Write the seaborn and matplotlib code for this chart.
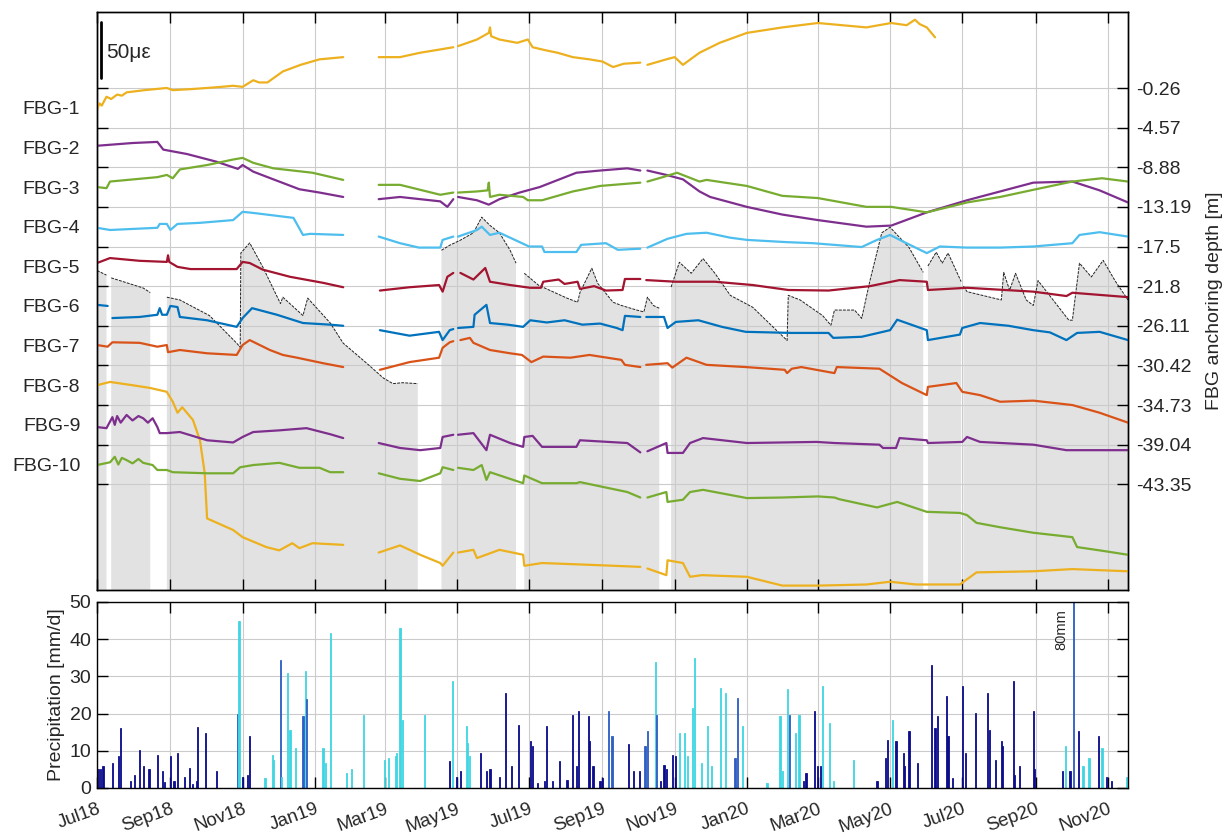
import numpy as np
import pandas as pd
import matplotlib
matplotlib.use("Agg")
import matplotlib.pyplot as plt
import matplotlib.dates as mdates
import seaborn as sns

nan = np.nan
START = pd.Timestamp("2018-07-01")
END_DAY = 871

SENSORS = ["FBG-1", "FBG-2", "FBG-3", "FBG-4", "FBG-5",
           "FBG-6", "FBG-7", "FBG-8", "FBG-9", "FBG-10"]
DEPTHS = [-0.26, -4.57, -8.88, -13.19, -17.5, -21.8, -26.11,
          -30.42, -34.73, -39.04, -43.35]
COLORS = ["#EDB120", "#7E2F8E", "#77AC30", "#4DBEEE", "#A2142F",
          "#0072BD", "#D95319", "#EDB120", "#7E2F8E", "#77AC30"]

# (day since 2018-07-01, relative strain in microstrain)
FBG1 = [(0, -2), (2, 4), (4, 2), (8, 10), (12, 8), (17, 12), (21, 11), (25, 14), (40, 16), (59, 18),
        (64, 16), (80, 17), (93, 18), (105, 19), (115, 20), (123, 19), (132, 25), (137, 23), (144, 23),
        (157, 33), (172, 39), (188, 44), (208, 46), (223, nan), (238, 46), (256, 46), (273, 50),
        (290, 53), (301, 55), (303, nan), (305, 56), (321, 62), (331, 68), (332, 73), (333, 65),
        (340, 62), (355, 59), (364, 62), (368, 55), (380, 52), (389, 50), (402, 46), (416, 44),
        (427, 42), (436, 37), (445, 40), (459, 41), (462, nan), (465, 39), (481, 44), (488, 46),
        (495, 39), (509, 50), (526, 59), (549, 68), (579, 73), (609, 77), (650, 73), (671, 77),
        (684, 75), (691, 80), (695, 76), (701, 73), (708, 64)]
FBG2 = [(0, 1.5), (30, 4), (51, 5), (56, -2), (76, -6), (101, -13), (119, -19.5), (123, -16),
        (132, -22), (149, -29), (171, -38), (188, -41), (208, -45), (223, nan), (238, -47),
        (256, -45), (290, -49), (296, -54), (301, -47), (303, nan), (305, -45), (321, -48),
        (331, -52), (340, -47), (357, -41), (374, -36), (405, -23), (425, -21), (448, -19),
        (459, -21), (462, nan), (465, -21), (481, -25), (495, -29), (509, -40), (518, -45),
        (549, -54), (579, -61), (609, -66), (650, -72), (671, -71), (701, -59), (735, -48),
        (763, -40), (791, -32), (824, -31), (847, -39), (871, -50)]
FBG3 = [(0, 0), (8, -1), (11, 5), (51, 9), (59, 11), (64, 8), (70, 16), (93, 20), (115, 25),
        (123, 26.5), (132, 22), (149, 17), (182, 13), (208, 6.5), (223, nan), (238, 2), (256, 2),
        (290, -7), (301, -5), (303, nan), (305, -5), (321, -4), (330, -3), (331, 4), (332, -9),
        (340, -7), (360, -9), (364, -12), (376, -12), (402, -4), (425, 1), (459, 4), (462, nan),
        (465, 5), (478, 9), (490, 13), (509, 5), (515, 6.5), (549, 1), (579, -8), (609, -10),
        (650, -18), (671, -18), (701, -23), (735, -14), (763, -9), (791, -2.5), (824, 5),
        (849, 8), (871, 5)]
FBG4 = [(0, -1), (11, -3), (51, -1), (53, 2.5), (59, 2.5), (62, -3), (68, 2.5), (87, 3.5),
        (115, 6), (123, 13.5), (132, 12.5), (166, 8), (174, -7.5), (180, -6.5), (208, -7.5),
        (223, nan), (238, -9), (256, -15), (272, -19), (290, -19), (292, -12), (301, -9),
        (303, nan), (305, -9), (321, -3), (325, 0), (332, -7.5), (340, -5.5), (365, -18),
        (376, -18), (378, -23), (405, -23), (409, -16.5), (430, -15), (440, -21), (459, -20),
        (462, nan), (465, -19), (482, -11), (498, -6.5), (515, -5.5), (535, -10), (549, -12),
        (582, -14), (605, -15), (646, -18.5), (659, -12), (670, -7.5), (682, -14), (701, -24),
        (712, -18), (735, -19), (763, -19), (791, -18), (824, -15), (830, -7.5), (847, -5),
        (871, -9)]
FBG5 = [(0, 3), (11, 7.5), (36, 5), (59, 4), (60, 10), (61, 4), (68, -0.5), (79, -2.5),
        (118, -2.5), (123, 4), (129, 3), (140, -3), (163, -9.5), (191, -15), (208, -19),
        (223, nan), (239, -22), (264, -19), (289, -17), (292, -23), (296, -9.5), (301, -6),
        (303, nan), (307, -6), (318, -12), (328, -1.5), (332, -14), (349, -17), (366, -19.5),
        (375, -19.5), (377, -14), (390, -12), (395, -16), (406, -14), (408, -20.5), (420, -18),
        (430, -22), (444, -21.5), (446, -11.5), (459, -11.5), (462, nan), (464, -12.5),
        (489, -14), (522, -14), (554, -17), (584, -21.5), (618, -22), (653, -18), (678, -12.5),
        (701, -14), (702, -21.5), (735, -19.5), (791, -23), (819, -27), (824, -24), (871, -28)]
FBG6 = [(0, 1), (9, 0), (10, nan), (13, -11), (36, -10), (51, -8), (53, -2), (55, -8), (59, -8),
        (62, 0), (68, -1), (70, -10), (93, -13), (118, -19), (123, -11), (131, -2), (152, -8),
        (174, -15.5), (197, -17), (208, -18), (223, nan), (239, -22), (264, -27), (289, -23.5),
        (292, -31), (298, -22), (301, -21), (303, nan), (305, -20), (318, -19), (319, -8),
        (329, 1), (332, -15.5), (347, -17), (360, -19), (366, -13), (380, -15), (395, -13),
        (410, -17), (425, -16), (439, -20), (444, -22), (446, -9), (459, -10), (462, nan),
        (464, -10), (479, -10), (482, -20), (489, -14.5), (508, -13), (528, -19), (548, -23.5),
        (587, -24.5), (618, -24.5), (622, -29), (646, -28), (670, -22), (676, -12.5), (701, -22),
        (702, -31), (729, -26), (731, -20), (746, -15.5), (770, -18), (791, -22), (805, -24),
        (819, -31), (828, -24.5), (847, -23.5), (871, -31)]
FBG7 = [(0, 0.5), (9, -1), (13, 3), (36, 2.5), (51, -1), (59, 0.5), (60, -6), (70, -4), (93, -7),
        (118, -8.5), (123, 0.5), (129, 5), (146, -4), (157, -8.5), (169, -11), (191, -16),
        (208, -19.5), (223, nan), (239, -22), (264, -15), (289, -11), (292, -2), (298, 3),
        (301, 4), (303, nan), (307, 5), (315, 7), (318, 2.5), (332, -4), (349, -7), (359, -8.5),
        (367, -15), (377, -10), (400, -11), (416, -8.5), (443, -13), (446, -17.5), (459, -19.5),
        (462, nan), (464, -17.5), (482, -16), (486, -20), (498, -11), (515, -17.5), (548, -19.5),
        (581, -22), (583, -25), (587, -21), (595, -19.5), (623, -25), (625, -19.5), (661, -21),
        (680, -34), (701, -45), (702, -37.5), (726, -34), (731, -42), (746, -45), (763, -51),
        (791, -50), (824, -54), (847, -61), (871, -70)]
FBG8 = [(0, 0), (11, 3), (30, 0), (45, -2.5), (59, -6), (62, -11.5), (64, -15), (68, -25),
        (72, -20), (81, -31.5), (87, -50), (91, -80), (93, -121), (115, -131.5), (123, -138),
        (143, -147), (154, -150), (165, -143.5), (171, -148), (182, -143.5), (208, -145),
        (223, nan), (238, -152), (256, -145.5), (273, -154), (290, -161.5), (292, -164),
        (301, -152), (303, nan), (305, -152), (318, -149.5), (321, -157), (340, -149.5),
        (360, -154), (361, -164), (376, -161.5), (425, -163.5), (459, -165), (462, nan),
        (465, -166.5), (481, -172.5), (482, -159), (495, -161.5), (501, -174), (511, -172.5),
        (549, -174), (579, -182), (609, -182), (650, -181), (670, -178.5), (692, -181),
        (729, -181), (743, -170), (791, -169), (824, -167), (871, -169)]
FBG9 = [(0, -2), (8, -3), (13, 7), (15, 0), (17, 8), (20, 2), (25, 9), (30, 4), (35, 8), (39, 6),
        (43, 2), (47, 6), (51, -2), (53, -7.5), (59, -7.5), (70, -6.5), (93, -14), (115, -16),
        (123, -11), (132, -6.5), (154, -5), (177, -3), (197, -8.5), (208, -12), (223, nan),
        (238, -16.5), (256, -21), (273, -23), (290, -21), (292, -11), (301, -9), (303, nan),
        (305, -9), (318, -7.5), (329, -23), (332, -9), (349, -16.5), (360, -20), (361, -11),
        (368, -10), (376, -20), (405, -20), (408, -14), (448, -16.5), (459, -25), (462, nan),
        (465, -24), (481, -16.5), (482, -25.5), (495, -25.5), (501, -16.5), (512, -12),
        (549, -16.5), (608, -15.5), (623, -16.5), (661, -18), (664, -21), (675, -21), (678, -12),
        (701, -14), (702, -16.5), (731, -15.5), (735, -11), (746, -15.5), (791, -18), (819, -23),
        (871, -23)]
FBG10 = [(0, -0.5), (11, 2), (15, 7), (18, 0), (21, 6), (25, 4), (30, 1), (35, 5), (39, 1.5),
         (47, -0.5), (51, -5), (59, -5), (64, -7), (93, -8), (115, -8), (121, -2.5), (132, -0.5),
         (154, 1.5), (171, -3), (188, -3), (197, -7), (208, -7), (223, nan), (238, -8), (256, -13),
         (273, -15), (290, -8), (292, -2.5), (301, -5), (303, nan), (305, -3), (318, -5),
         (325, -0.5), (329, -14), (332, -7), (360, -17), (361, -10), (376, -17), (405, -17),
         (408, -16), (448, -25), (459, -30), (462, nan), (465, -30), (481, -25), (482, -34),
         (495, -32), (501, -25), (512, -23), (549, -30.5), (579, -30), (609, -29), (623, -30),
         (627, -31.5), (659, -39), (676, -34), (701, -43), (729, -44), (735, -46), (743, -53),
         (763, -57), (791, -62), (824, -66), (828, -75), (847, -78), (871, -82)]
SERIES = [FBG1, FBG2, FBG3, FBG4, FBG5, FBG6, FBG7, FBG8, FBG9, FBG10]

# groundwater level (day, depth in m)
WATER = [(0, -20.1), (8, -20.6), (10, nan), (12, -20.9), (39, -22.0), (45, -22.5), (52, nan),
         (59, -23.0), (70, -23.3), (95, -25.0), (118, -28.0), (121, -28.45), (121.5, -18.2),
         (129, -17.1), (140, -19.7), (155, -23.7), (157, -23.0), (174, -25.0), (178, -23.1),
         (197, -25.8), (208, -28.0), (228, -30.2), (242, -31.8), (250, -32.4), (258, -32.3),
         (271, -32.4), (280, nan), (291, -17.9), (298, -17.35), (307, -16.8), (318, -16.0),
         (325, -14.3), (332, -15.2), (340, -16.0), (349, -17.9), (354, -19.3), (357, nan),
         (361, -20.4), (373, -21.7), (397, -23.1), (406, -23.55), (408, -22.5), (418, -19.85),
         (423, -21.5), (436, -23.55), (443, -23.9), (456, -24.4), (462, -24.6), (465, -23.0),
         (470, -23.9), (475, -24.2), (480, nan), (485, -21.9), (492, -19.2), (502, -20.4),
         (512, -18.8), (522, -20.4), (535, -22.8), (554, -24.1), (574, -26.6), (583, -27.7),
         (584, -22.8), (594, -23.3), (613, -25.0), (620, -26.05), (623, -24.4), (640, -24.4),
         (646, -25.3), (653, -21.2), (663, -16.0), (670, -15.4), (686, -17.6), (698, -20.3),
         (700, nan), (702, -19.6), (709, -18.1), (714, -19.3), (719, -18.2), (730, -21.3),
         (731, nan), (732, -21.8), (735, -22.4), (764, -23.3), (766, -20.3), (771, -22.25),
         (776, -20.4), (785, -23.3), (791, -23.9), (795, -21.2), (821, -25.5), (824, -25.5),
         (830, -19.3), (840, -20.8), (850, -19.0), (860, -21.2), (871, -23.3)]

# precipitation events (day, mm/d, type: r=rain, m=mixed, s=snow)
PRECIP = [(1, 5, "r"), (3, 5, "r"), (5, 6, "r"), (13, 6.7, "r"), (18, 8.5, "r"), (20, 16, "r"),
          (28, 2, "r"), (32, 3.5, "r"), (36, 10.3, "r"), (39, 6, "r"), (44, 5, "r"), (51, 9, "r"),
          (55, 4.5, "r"), (57, 1.5, "r"), (62, 8.5, "r"), (65, 2, "r"), (68, 9.5, "r"), (74, 3, "r"),
          (78, 5.5, "r"), (81, 1, "r"), (84, 2, "r"), (85, 16.4, "r"), (92, 14.8, "r"),
          (101, 4.5, "r"), (119, 20, "m"), (120, 45, "s"), (123, 3, "r"), (127, 3.5, "r"),
          (129, 14, "r"), (142, 2.7, "s"), (148, 9, "s"), (149, 7.6, "s"), (155, 34.5, "m"),
          (156, 3, "s"), (161, 31, "s"), (163, 15.7, "s"), (168, 10.8, "s"), (174, 19.3, "m"),
          (176, 31.4, "s"), (177, 23.8, "m"), (191, 10.8, "s"), (193, 6.7, "s"), (197, 41.7, "s"),
          (211, 4, "s"), (215, 5, "s"), (225, 19.7, "s"), (243, 7.6, "s"), (246, 8, "s"),
          (252, 8.5, "s"), (253, 9.4, "s"), (256, 43, "s"), (258, 18.4, "s"), (277, 19.7, "s"),
          (298, 7.2, "r"), (300, 28.7, "s"), (304, 3, "r"), (307, 4.5, "r"), (312, 16.6, "s"),
          (313, 12, "s"), (315, 8.5, "s"), (324, 9.4, "r"), (329, 4.5, "r"), (332, 5, "r"),
          (340, 3, "r"), (345, 25.6, "r"), (350, 5.8, "r"), (356, 17, "r"), (366, 12.6, "r"),
          (368, 11.2, "r"), (372, 1.3, "r"), (378, 1.8, "r"), (380, 16.8, "r"), (385, 1.8, "r"),
          (391, 7.2, "r"), (397, 2.2, "r"), (402, 19.7, "r"), (405, 5.8, "r"), (407, 20.6, "r"),
          (415, 19.3, "r"), (416, 12.6, "r"), (419, 5.8, "r"), (425, 1.8, "r"), (427, 2.7, "r"),
          (432, 20.6, "m"), (435, 14, "m"), (449, 11.7, "r"), (453, 4.5, "r"), (458, 4.5, "r"),
          (463, 11.2, "m"), (465, 15.3, "m"), (472, 34, "s"), (473, 19.7, "m"), (476, 1.8, "r"),
          (479, 6.3, "r"), (481, 5, "r"), (486, 9, "r"), (489, 8.5, "r"), (492, 14.8, "s"),
          (496, 14.8, "s"), (499, 8.5, "s"), (503, 21.5, "s"), (505, 35, "s"), (511, 6.7, "s"),
          (516, 16.6, "s"), (519, 5.8, "s"), (527, 27, "s"), (531, 25.6, "s"), (539, 8, "m"),
          (541, 24.2, "m"), (545, 16.6, "s"), (566, 1.3, "s"), (577, 19.3, "s"), (579, 4.5, "s"),
          (583, 26.5, "s"), (585, 19.7, "m"), (590, 14.8, "s"), (593, 19.7, "s"), (597, 1.8, "r"),
          (599, 4, "r"), (606, 20.6, "r"), (609, 5.8, "r"), (611, 5.8, "r"), (613, 27.4, "s"),
          (619, 17.5, "s"), (622, 1.8, "s"), (639, 7.6, "s"), (659, 1.8, "r"), (666, 8, "r"),
          (668, 13, "r"), (672, 18.4, "s"), (675, 12.6, "r"), (681, 9.4, "r"), (682, 5.8, "r"),
          (686, 15.3, "r"), (693, 6.7, "r"), (705, 33, "r"), (708, 16.2, "r"), (710, 19.3, "r"),
          (718, 24.7, "r"), (719, 14, "r"), (723, 2.7, "r"), (731, 27.4, "r"), (734, 9.4, "r"),
          (742, 20.2, "r"), (752, 25.6, "r"), (754, 15.7, "r"), (759, 7.6, "r"), (764, 12.6, "r"),
          (765, 11.2, "r"), (774, 28.7, "r"), (775, 3.6, "r"), (779, 5.8, "r"), (791, 20.6, "r"),
          (792, 5, "r"), (816, 4.5, "r"), (818, 11.2, "s"), (822, 4.5, "r"), (825, 80, "m"),
          (829, 15.3, "r"), (833, 5.8, "s"), (838, 8, "s"), (846, 14, "r"), (849, 10.8, "s"),
          (853, 3, "r"), (857, 1.8, "r"), (870, 3, "s")]
PRECIP_COLORS = {"r": "#0c0c8c", "m": "#2f5fc4", "s": "#3fd6e3"}

# ---------------------------------------------------------------------------
W, H = 1227, 834
sns.set_theme(style="white")
plt.rcParams["font.family"] = ["Liberation Sans", "DejaVu Sans"]
plt.rcParams["axes.edgecolor"] = "black"
plt.rcParams["axes.linewidth"] = 1.0

fig = plt.figure(figsize=(W / 100, H / 100), dpi=100)
fig.patch.set_facecolor("white")
ax_d = fig.add_axes([97 / W, 1 - 590 / H, (1128 - 97) / W, (590 - 12) / H])
ax_p = fig.add_axes([97 / W, 1 - 788 / H, (1128 - 97) / W, (788 - 602) / H], sharex=ax_d)
ax_s = ax_d.twinx()


def to_dates(days):
    return START + pd.to_timedelta(np.asarray(days, float), unit="D")


# strain axis geometry (microstrain units, 36 per sensor row)
S_LIM = (0, 525)
GRID_S = [96 + 36 * i for i in range(11)]
BASE = [438 - 36 * i for i in range(10)]
# depth axis aligned to strain axis grid
D_LIM = (-54.84, 8.01)

# groundwater level
wd = np.array([p[0] for p in WATER], float)
wv = np.array([p[1] for p in WATER], float)
wdates = to_dates(wd)
ax_d.fill_between(wdates, wv, D_LIM[0], color="#e2e2e2", lw=0, zorder=0.3)
ax_d.plot(wdates, wv, color="#222222", lw=0.7, ls=(0, (3, 1.2)), zorder=0.6)

# strain series
for k, (pts, col) in enumerate(zip(SERIES, COLORS)):
    d = np.array([p[0] for p in pts], float)
    v = np.array([p[1] for p in pts], float)
    df = pd.DataFrame({"date": to_dates(d), "ue": BASE[k] + v,
                       "seg": np.cumsum(np.isnan(v))}).dropna()
    sns.lineplot(data=df, x="date", y="ue", units="seg", estimator=None, sort=False,
                 color=col, lw=1.6, ax=ax_s, legend=False)

# 50 microstrain scale bar
ax_s.plot(to_dates([3.5, 3.5]), [465.5, 515.5], color="black", lw=2)
ax_s.text(mdates.date2num(START + pd.Timedelta(days=8)), 488, "50\u03bc\u03b5",
          ha="left", va="center", fontsize=15)

xmin, xmax = START, START + pd.Timedelta(days=END_DAY)
ax_d.set_xlim(xmin, xmax)
ax_d.set_ylim(*D_LIM)
ax_s.set_ylim(*S_LIM)

loc = mdates.MonthLocator(bymonth=[1, 3, 5, 7, 9, 11])
ax_d.xaxis.set_major_locator(loc)
ax_d.xaxis.set_major_formatter(mdates.DateFormatter("%b%y"))

ax_d.yaxis.tick_right()
ax_d.yaxis.set_label_position("right")
ax_d.set_yticks(DEPTHS)
ax_d.set_yticklabels([f"{v:g}" for v in DEPTHS])
ax_d.grid(True, color="#cbcbcb", lw=0.8)
ax_d.set_axisbelow(True)
ax_d.tick_params(axis="x", direction="in", length=8, width=1, top=True, bottom=True,
                 labelbottom=False, labeltop=False, color="black")
ax_d.tick_params(axis="y", direction="in", length=8, width=1, left=False, right=True,
                 labelleft=False, labelright=True, labelsize=14, pad=6, color="black")
ax_d.set_ylabel("FBG anchoring depth [m]", fontsize=14, labelpad=10)
ax_d.set_xlabel("")

ax_s.yaxis.tick_left()
ax_s.set_yticks(GRID_S)
ax_s.set_yticklabels([])
ax_s.set_yticks(BASE, minor=True)
ax_s.set_yticklabels(SENSORS, minor=True)
ax_s.tick_params(axis="y", which="major", direction="in", length=8, width=1,
                 left=True, right=False, labelleft=False, labelright=False, color="black")
ax_s.tick_params(axis="y", which="minor", length=0, left=True, right=False,
                 labelleft=True, labelright=False, labelsize=14, pad=12)
ax_s.set_ylabel("")
ax_s.set_xlabel("")
ax_s.grid(False)

# precipitation
pday = np.array([p[0] for p in PRECIP], float)
pmm = np.array([p[1] for p in PRECIP], float)
pcol = [PRECIP_COLORS[p[2]] for p in PRECIP]
ax_p.bar(to_dates(pday), pmm, width=1.0, color=pcol, edgecolor=pcol, lw=0.6, zorder=2)
ax_p.text(mdates.date2num(START + pd.Timedelta(days=815)), 42.5, "80mm", rotation=90,
          ha="center", va="center", fontsize=10.5)
ax_p.set_ylim(0, 50)
ax_p.set_yticks([0, 10, 20, 30, 40, 50])
ax_p.grid(True, color="#cbcbcb", lw=0.8)
ax_p.set_axisbelow(True)
ax_p.tick_params(axis="x", direction="in", length=8, width=1, top=True, bottom=True,
                 labelbottom=True, labelsize=13.5, pad=9, color="black")
ax_p.tick_params(axis="y", direction="in", length=8, width=1, left=True, right=True,
                 labelleft=True, labelsize=14, pad=4, color="black")
for lab in ax_p.get_xticklabels():
    lab.set_rotation(20)
    lab.set_ha("right")
    lab.set_va("top")
    lab.set_rotation_mode("anchor")
ax_p.set_ylabel("Precipitation [mm/d]", fontsize=14, labelpad=3)
ax_p.set_xlabel("")

for a in (ax_d, ax_p):
    for s in a.spines.values():
        s.set_color("black")
        s.set_linewidth(1.0)

fig.savefig("out.png", dpi=100, facecolor="white")
